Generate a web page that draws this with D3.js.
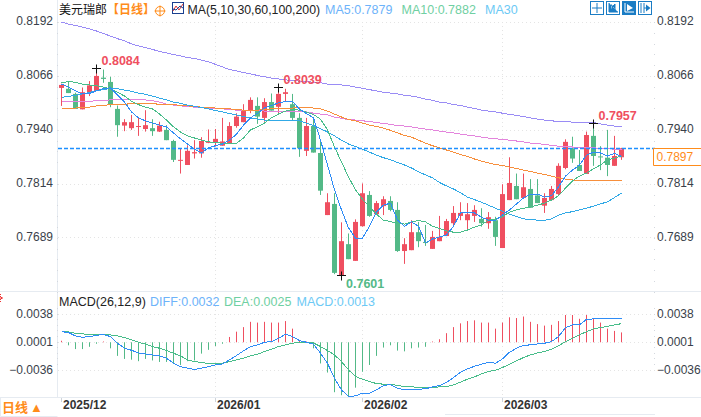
<!DOCTYPE html>
<html lang="zh-CN">
<head>
<meta charset="UTF-8">
<title>美元瑞郎 日线</title>
<style>
  html, body { margin: 0; padding: 0; background: #fff; overflow: hidden; }
  svg { display: block; font-family: "Liberation Sans", Arial, "Noto Sans CJK SC", sans-serif; }
  .axis text { font-size: 12px; fill: #3a3f4a; }
  .axis .domain, .axis line { display: none; }
  .month { font-size: 12px; font-weight: bold; fill: #333; }
  .peak { font-size: 12.5px; font-weight: bold; }
</style>
</head>
<body>
<svg width="701" height="417"></svg>
<script src="https://d3js.org/d3.v7.min.js"></script>
<script>
// daily candles, one entry per trading day
const opens = [0.8038,0.8036,0.8024,0.7988,0.8028,0.8031,0.8062,0.8052,0.7989,0.7950,0.7944,0.7947,0.7942,0.7944,0.7936,0.7940,0.7914,0.7868,0.7858,0.7885,0.7885,0.7910,0.7911,0.7903,0.7909,0.7949,0.7958,0.7986,0.7996,0.7968,0.8005,0.7994,0.8024,0.8000,0.7968,0.7891,0.7949,0.7886,0.7741,0.7767,0.7601,0.7673,0.7634,0.7715,0.7788,0.7743,0.7762,0.7774,0.7753,0.7657,0.7659,0.7701,0.7678,0.7662,0.7680,0.7692,0.7722,0.7739,0.7729,0.7739,0.7732,0.7722,0.7729,0.7664,0.7776,0.7809,0.7781,0.7802,0.7787,0.7763,0.7776,0.7790,0.7851,0.7897,0.7858,0.7837,0.7926,0.7878,0.7875,0.7856,0.7876];
const closes = [0.8045,0.8026,0.7989,0.8028,0.8044,0.8066,0.8059,0.7999,0.7951,0.7958,0.7958,0.7949,0.7951,0.7937,0.7950,0.7916,0.7870,0.7870,0.7891,0.7888,0.7914,0.7912,0.7919,0.7913,0.7949,0.7971,0.7984,0.8010,0.7971,0.8005,0.7985,0.8024,0.8028,0.7968,0.7897,0.7949,0.7887,0.7798,0.7771,0.7606,0.7680,0.7638,0.7725,0.7792,0.7739,0.7769,0.7778,0.7753,0.7657,0.7673,0.7701,0.7680,0.7676,0.7690,0.7690,0.7727,0.7746,0.7746,0.7743,0.7753,0.7722,0.7736,0.7690,0.7790,0.7816,0.7778,0.7806,0.7758,0.7769,0.7781,0.7802,0.7856,0.7912,0.7873,0.7844,0.7928,0.7879,0.7877,0.7858,0.7879,0.7897];
const highs = [0.8048,0.8054,0.8027,0.8039,0.8054,0.8084,0.8081,0.8064,0.7997,0.7965,0.7975,0.7969,0.7986,0.7965,0.7959,0.7951,0.7917,0.7896,0.7904,0.7916,0.7923,0.7941,0.7942,0.7968,0.7958,0.7979,0.8000,0.8016,0.8016,0.8014,0.8025,0.8039,0.8036,0.8024,0.7979,0.7968,0.7965,0.7912,0.7792,0.7792,0.7724,0.7698,0.7731,0.7815,0.7797,0.7774,0.7785,0.7785,0.7771,0.7687,0.7729,0.7725,0.7718,0.7704,0.7739,0.7732,0.7762,0.7771,0.7769,0.7764,0.7757,0.7748,0.7737,0.7813,0.7876,0.7838,0.7838,0.7825,0.7825,0.7792,0.7809,0.7862,0.7918,0.7924,0.7893,0.7936,0.7957,0.7902,0.7940,0.7926,0.7898];
const lows = [0.7996,0.8026,0.7989,0.7988,0.8019,0.8031,0.8050,0.7993,0.7924,0.7937,0.7940,0.7926,0.7936,0.7926,0.7935,0.7916,0.7865,0.7838,0.7858,0.7873,0.7875,0.7909,0.7901,0.7903,0.7909,0.7945,0.7958,0.7979,0.7954,0.7959,0.7985,0.7979,0.8007,0.7961,0.7877,0.7879,0.7887,0.7788,0.7741,0.7603,0.7601,0.7638,0.7634,0.7714,0.7737,0.7743,0.7741,0.7750,0.7655,0.7627,0.7659,0.7666,0.7669,0.7662,0.7680,0.7692,0.7713,0.7729,0.7706,0.7725,0.7714,0.7709,0.7669,0.7664,0.7776,0.7778,0.7781,0.7758,0.7769,0.7746,0.7774,0.7788,0.7848,0.7863,0.7844,0.7837,0.7856,0.7846,0.7832,0.7856,0.7870];

// moving averages
const ma5 = [0.8047,0.8040,0.8031,0.8024,0.8025,0.8031,0.8037,0.8038,0.8021,0.8005,0.7982,0.7968,0.7961,0.7956,0.7951,0.7947,0.7933,0.7919,0.7907,0.7895,0.7886,0.7898,0.7903,0.7907,0.7916,0.7930,0.7951,0.7968,0.7979,0.7991,0.7997,0.8003,0.8006,0.8006,0.7989,0.7978,0.7968,0.7916,0.7858,0.7800,0.7753,0.7711,0.7687,0.7687,0.7715,0.7748,0.7764,0.7769,0.7729,0.7715,0.7725,0.7715,0.7676,0.7685,0.7690,0.7694,0.7715,0.7746,0.7746,0.7746,0.7736,0.7729,0.7729,0.7741,0.7753,0.7767,0.7781,0.7790,0.7790,0.7783,0.7786,0.7807,0.7832,0.7846,0.7858,0.7881,0.7888,0.7886,0.7879,0.7885,0.7878];
const ma10 = [0.8050,0.8053,0.8051,0.8047,0.8045,0.8043,0.8040,0.8036,0.8028,0.8019,0.8007,0.7999,0.7993,0.7989,0.7977,0.7963,0.7947,0.7935,0.7926,0.7921,0.7916,0.7912,0.7910,0.7909,0.7909,0.7909,0.7921,0.7940,0.7947,0.7956,0.7968,0.7977,0.7984,0.7988,0.7986,0.7981,0.7976,0.7965,0.7940,0.7900,0.7865,0.7830,0.7800,0.7778,0.7760,0.7743,0.7729,0.7726,0.7721,0.7720,0.7725,0.7728,0.7725,0.7715,0.7710,0.7704,0.7701,0.7701,0.7706,0.7713,0.7718,0.7729,0.7732,0.7737,0.7748,0.7753,0.7757,0.7760,0.7764,0.7769,0.7776,0.7786,0.7804,0.7821,0.7832,0.7839,0.7849,0.7858,0.7870,0.7874,0.7879];
const ma30 = [0.8016,0.8018,0.8021,0.8024,0.8027,0.8032,0.8034,0.8037,0.8036,0.8033,0.8030,0.8026,0.8023,0.8019,0.8014,0.8010,0.8005,0.8002,0.7998,0.7995,0.7992,0.7989,0.7985,0.7982,0.7978,0.7975,0.7971,0.7968,0.7965,0.7963,0.7962,0.7961,0.7962,0.7962,0.7961,0.7956,0.7950,0.7943,0.7935,0.7926,0.7916,0.7907,0.7901,0.7895,0.7888,0.7881,0.7875,0.7870,0.7864,0.7858,0.7851,0.7842,0.7835,0.7828,0.7817,0.7809,0.7802,0.7793,0.7783,0.7777,0.7771,0.7764,0.7757,0.7750,0.7743,0.7738,0.7732,0.7731,0.7729,0.7729,0.7732,0.7741,0.7746,0.7749,0.7753,0.7757,0.7762,0.7767,0.7772,0.7782,0.7792];
const ma60 = [0.7989,0.7989,0.7991,0.7992,0.7993,0.7996,0.7997,0.7999,0.8000,0.8000,0.8001,0.8001,0.8001,0.8001,0.8000,0.8000,0.7999,0.7997,0.7996,0.7995,0.7993,0.7992,0.7991,0.7990,0.7989,0.7988,0.7986,0.7986,0.7986,0.7988,0.7989,0.7989,0.7990,0.7991,0.7992,0.7992,0.7991,0.7989,0.7984,0.7977,0.7970,0.7964,0.7961,0.7956,0.7951,0.7948,0.7944,0.7939,0.7933,0.7927,0.7923,0.7916,0.7909,0.7903,0.7898,0.7893,0.7888,0.7882,0.7878,0.7872,0.7867,0.7863,0.7859,0.7857,0.7853,0.7850,0.7846,0.7843,0.7839,0.7836,0.7832,0.7828,0.7825,0.7823,0.7821,0.7821,0.7821,0.7821,0.7821,0.7821,0.7821];
const ma100 = [0.8007,0.8007,0.8007,0.8007,0.8007,0.8008,0.8009,0.8010,0.8011,0.8011,0.8011,0.8011,0.8010,0.8008,0.8005,0.8000,0.7998,0.7996,0.7995,0.7993,0.7993,0.7991,0.7990,0.7989,0.7988,0.7986,0.7986,0.7985,0.7985,0.7984,0.7984,0.7984,0.7984,0.7983,0.7982,0.7982,0.7979,0.7977,0.7975,0.7970,0.7967,0.7964,0.7963,0.7961,0.7960,0.7957,0.7955,0.7953,0.7950,0.7949,0.7947,0.7944,0.7942,0.7940,0.7937,0.7935,0.7933,0.7930,0.7928,0.7926,0.7923,0.7921,0.7919,0.7918,0.7916,0.7914,0.7912,0.7909,0.7908,0.7906,0.7904,0.7902,0.7901,0.7900,0.7899,0.7899,0.7898,0.7897,0.7896,0.7895,0.7895];
const ma200 = [0.8192,0.8187,0.8184,0.8180,0.8176,0.8171,0.8165,0.8159,0.8153,0.8148,0.8141,0.8136,0.8132,0.8128,0.8123,0.8120,0.8116,0.8113,0.8109,0.8107,0.8103,0.8099,0.8093,0.8087,0.8081,0.8078,0.8074,0.8071,0.8067,0.8064,0.8061,0.8059,0.8057,0.8055,0.8054,0.8053,0.8051,0.8050,0.8047,0.8046,0.8045,0.8043,0.8040,0.8037,0.8034,0.8031,0.8028,0.8026,0.8024,0.8021,0.8019,0.8016,0.8012,0.8009,0.8005,0.8003,0.7999,0.7997,0.7993,0.7990,0.7986,0.7984,0.7982,0.7979,0.7976,0.7974,0.7971,0.7968,0.7965,0.7963,0.7961,0.7960,0.7960,0.7958,0.7958,0.7957,0.7957,0.7954,0.7951,0.7949,0.7947];

// MACD panel
const diff = [0.00141,0.00128,0.00084,0.00066,0.00075,0.00092,0.00101,0.00075,-0.00013,-0.00079,-0.00106,-0.00141,-0.00154,-0.00167,-0.00180,-0.00211,-0.00277,-0.00321,-0.00343,-0.00361,-0.00343,-0.00321,-0.00299,-0.00286,-0.00233,-0.00176,-0.00114,-0.00057,-0.00035,0.00000,0.00009,0.00053,0.00106,0.00075,0.00022,0.00000,-0.00026,-0.00145,-0.00277,-0.00475,-0.00629,-0.00717,-0.00708,-0.00673,-0.00673,-0.00629,-0.00572,-0.00559,-0.00607,-0.00629,-0.00625,-0.00620,-0.00616,-0.00590,-0.00572,-0.00532,-0.00466,-0.00396,-0.00352,-0.00317,-0.00290,-0.00264,-0.00277,-0.00220,-0.00132,-0.00079,-0.00040,-0.00035,-0.00022,-0.00013,0.00009,0.00075,0.00194,0.00229,0.00229,0.00304,0.00308,0.00317,0.00308,0.00308,0.00317];
const dea = [0.00136,0.00136,0.00119,0.00110,0.00106,0.00101,0.00101,0.00097,0.00084,0.00062,0.00031,0.00000,-0.00026,-0.00057,-0.00079,-0.00110,-0.00145,-0.00180,-0.00233,-0.00255,-0.00268,-0.00282,-0.00282,-0.00277,-0.00255,-0.00233,-0.00211,-0.00180,-0.00158,-0.00123,-0.00092,-0.00057,-0.00035,-0.00013,0.00000,0.00000,-0.00009,-0.00057,-0.00110,-0.00167,-0.00255,-0.00365,-0.00453,-0.00488,-0.00519,-0.00546,-0.00554,-0.00554,-0.00572,-0.00585,-0.00590,-0.00594,-0.00598,-0.00598,-0.00590,-0.00585,-0.00563,-0.00528,-0.00488,-0.00458,-0.00418,-0.00387,-0.00370,-0.00334,-0.00290,-0.00246,-0.00202,-0.00167,-0.00141,-0.00123,-0.00092,-0.00048,0.00009,0.00053,0.00097,0.00141,0.00176,0.00194,0.00211,0.00229,0.00246];
const macdBars = [0.0002,-0.0004,-0.0009,-0.0009,-0.0006,-0.0002,0.0001,-0.0008,-0.0018,-0.0022,-0.0023,-0.0025,-0.0022,-0.0024,-0.0026,-0.0026,-0.0028,-0.0030,-0.0025,-0.0024,-0.0015,-0.0010,-0.0005,-0.0002,0.0007,0.0014,0.0020,0.0027,0.0026,0.0027,0.0026,0.0026,0.0028,0.0018,0.0003,0.0001,-0.0008,-0.0028,-0.0040,-0.0066,-0.0070,-0.0072,-0.0060,-0.0039,-0.0030,-0.0018,-0.0007,-0.0004,-0.0011,-0.0012,-0.0008,-0.0007,-0.0006,0.0001,0.0004,0.0012,0.0020,0.0025,0.0028,0.0029,0.0026,0.0026,0.0018,0.0026,0.0033,0.0032,0.0034,0.0027,0.0024,0.0022,0.0023,0.0028,0.0036,0.0036,0.0031,0.0036,0.0031,0.0026,0.0018,0.0015,0.0013];

// axis labels
const priceTicks = [0.8192, 0.8066, 0.7940, 0.7814, 0.7689];
const macdTicks = [0.0038, 0.0001, -0.0036];
const monthLabels = ["2025/12", "2026/01", "2026/02", "2026/03"];
const monthIndex = [0, 22, 43, 63];
const lastPrice = 0.7897;
const highMarks = [5, 31, 76];
const lowMarks = [40];

const RED = "#ef4f60", GREEN = "#53b987", BLUE = "#1a7cc4", ORANGE = "#ff8c1a";

const svg = d3.select("svg");

const x = d3.scaleLinear().domain([0, 80]).range([61.5, 621.5]);
const y = d3.scaleLinear().domain([0.8192, 0.7601]).range([22, 275]);
const yM = d3.scaleLinear().domain([0.0038, -0.0036]).range([313.5, 369.5]);

// frame
const frame = svg.append("g").attr("stroke", "#e6ebf1").attr("fill", "none");
frame.append("path").attr("d", "M57.5,0V397M0,291.5H701M0,397.5H701M445,414.5H655");
frame.append("path").attr("d", "M0.5,397.5V416.5H57.5");

// grid
const grid = svg.append("g").attr("stroke", "#e4e4e4").attr("stroke-dasharray", "1,3");
[...priceTicks.map(y), ...macdTicks.map(yM)].forEach(py => {
  grid.append("line").attr("x1", 58).attr("x2", 655)
    .attr("y1", Math.round(py) + 0.5).attr("y2", Math.round(py) + 0.5);
});
monthIndex.slice(1).forEach(i => {
  grid.append("line").attr("x1", Math.floor(x(i)) + 0.5).attr("x2", Math.floor(x(i)) + 0.5)
    .attr("y1", 22).attr("y2", 397);
});

// small ticks along both value axes
const minor = svg.append("g").attr("fill", "#d4d8de");
const priceMinor = d3.range(0, 26).map(k => 0.8192 - k * 0.00252);
const macdMinor = d3.range(-1, 10).map(k => 0.0038 - k * 0.00074);
[57, 654].forEach(px => {
  [...priceMinor.map(y), ...macdMinor.map(yM)].forEach(py => {
    minor.append("rect").attr("x", px).attr("y", Math.round(py)).attr("width", 1).attr("height", 1);
  });
});

// candles
const days = d3.range(opens.length);
const candle = svg.append("g").selectAll("g").data(days).join("g")
  .attr("fill", i => closes[i] >= opens[i] ? RED : GREEN);
candle.append("rect")
  .attr("x", i => x(i) - 0.5).attr("width", 1)
  .attr("y", i => y(highs[i]))
  .attr("height", i => y(lows[i]) - y(highs[i]));
candle.append("rect")
  .attr("x", i => x(i) - 2.5).attr("width", 5)
  .attr("y", i => y(Math.max(opens[i], closes[i])))
  .attr("height", i => Math.max(1, Math.abs(y(opens[i]) - y(closes[i]))));

// moving averages
const maLine = d3.line().x((d, i) => x(i)).y(d => y(d));
[[ma200, "#9a8cf5"], [ma100, "#e384dc"], [ma60, "#f78f3c"], [ma30, "#31a9e6"], [ma10, "#48bd8a"], [ma5, "#2f8cf6"]]
  .forEach(([values, color]) => {
    svg.append("path").attr("d", maLine(values)).attr("fill", "none")
      .attr("stroke", color).attr("shape-rendering", "crispEdges");
  });

// high / low markers
const crossAt = (px, py) => svg.append("path")
  .attr("d", `M${px - 4},${py}H${px + 5}M${px + 0.5},${py - 4}V${py + 5}`)
  .attr("transform", "translate(0,0.5)")
  .attr("stroke", "#111").attr("fill", "none");
highMarks.forEach(i => {
  crossAt(Math.floor(x(i)), Math.round(y(highs[i])));
  svg.append("text").attr("class", "peak").attr("fill", RED)
    .attr("x", x(i) + 5).attr("y", y(highs[i]) - 3)
    .text(d3.format(".4f")(highs[i]));
});
lowMarks.forEach(i => {
  crossAt(Math.floor(x(i)), Math.round(y(lows[i])));
  svg.append("text").attr("class", "peak").attr("fill", GREEN)
    .attr("x", x(i) + 4.5).attr("y", y(lows[i]) + 13)
    .text(d3.format(".4f")(lows[i]));
});

// last price line and tag
svg.append("line").attr("x1", 58).attr("x2", 655)
  .attr("y1", 148.5).attr("y2", 148.5)
  .attr("stroke", "#1e90ff").attr("stroke-width", 1.4).attr("stroke-dasharray", "4,2");
svg.append("path").attr("d", "M701,148.5H653.5V165.5H701").attr("fill", "#fff").attr("stroke", ORANGE);
svg.append("text").attr("x", 656.5).attr("y", 161).attr("fill", ORANGE).attr("font-size", 12)
  .text(d3.format(".4f")(lastPrice));

// MACD histogram and lines
svg.append("g").selectAll("rect").data(macdBars).join("rect")
  .attr("x", (d, i) => x(i) - 0.5).attr("width", 1)
  .attr("y", d => Math.min(yM(d), yM(0)))
  .attr("height", d => Math.abs(yM(d) - yM(0)))
  .attr("fill", d => d >= 0 ? RED : GREEN);
const macdLine = d3.line().x((d, i) => x(i)).y(d => yM(d));
svg.append("path").attr("d", macdLine(dea)).attr("fill", "none").attr("stroke", "#48bd8a").attr("shape-rendering", "crispEdges");
svg.append("path").attr("d", macdLine(diff)).attr("fill", "none").attr("stroke", "#2f8cf6").attr("shape-rendering", "crispEdges");

// value axes
const fmt = d3.format(".4f");
svg.append("g").attr("class", "axis").attr("transform", "translate(56,-1)")
  .call(d3.axisLeft(y).tickValues(priceTicks).tickFormat(fmt).tickSize(0).tickPadding(3));
svg.append("g").attr("class", "axis").attr("transform", "translate(56,0)")
  .call(d3.axisLeft(yM).tickValues(macdTicks).tickFormat(fmt).tickSize(0).tickPadding(3));
svg.append("g").attr("class", "axis").attr("transform", "translate(654,-1)")
  .call(d3.axisRight(y).tickValues(priceTicks).tickFormat(fmt).tickSize(0).tickPadding(3));
svg.append("g").attr("class", "axis").attr("transform", "translate(654,0)")
  .call(d3.axisRight(yM).tickValues(macdTicks).tickFormat(fmt).tickSize(0).tickPadding(3));

// month labels
svg.append("g").selectAll("text").data(monthLabels).join("text")
  .attr("class", "month")
  .attr("x", (d, i) => x(monthIndex[i]) + 1.5).attr("y", 409)
  .text(d => d);
monthIndex.forEach(i => {
  svg.append("line").attr("x1", Math.floor(x(i)) + 0.5).attr("x2", Math.floor(x(i)) + 0.5)
    .attr("y1", 398).attr("y2", 402).attr("stroke", "#cfd4da");
});

// header row
const head = (txt, px, fill, size) => svg.append("text")
  .attr("x", px).attr("y", 14).attr("fill", fill).attr("font-size", size).text(txt);
head("美元瑞郎", 59, "#111", 12);
head("【日线】", 107, ORANGE, 12).attr("font-weight", "bold");
head("MA(5,10,30,60,100,200)", 187.5, "#222", 12.3);
head("MA5:0.7879", 325, "#6db3fa", 12.5);
head("MA10:0.7882", 401.5, "#6fd0a2", 12.5);
head("MA30", 485, "#6cc9f5", 12.5);

// target symbol next to the title
svg.append("circle").attr("cx", 160).attr("cy", 11).attr("r", 4.5).attr("fill", "none").attr("stroke", ORANGE);
svg.append("path").attr("d", "M154.5,11H165.5M160,5.5V16.5").attr("stroke", ORANGE).attr("fill", "none");

// MA icon
const maIcon = svg.append("g").attr("fill", "none");
maIcon.append("rect").attr("x", 172.5).attr("y", 2.5).attr("width", 11).attr("height", 11).attr("stroke", "#1a3f8f");
maIcon.append("path").attr("d", "M173,11L176,6L179,10L183,4").attr("stroke", "#d33");
maIcon.append("path").attr("d", "M173,9L176,10L180,6L183,8").attr("stroke", "#1a3f8f");

// toolbar
const tools = [590, 606, 622, 638];
tools.forEach((px, k) => {
  const on = k === 2;
  const g = svg.append("g").attr("transform", `translate(${px},1)`);
  g.append("rect").attr("x", 0.5).attr("y", 0.5).attr("width", 13).attr("height", 13)
    .attr("fill", on ? BLUE : "#fff").attr("stroke", BLUE);
  const ink = on ? "#fff" : BLUE;
  if (k === 0) {
    g.append("path").attr("d", "M7,2V5M7,9V12M2,7H5M9,7H12M6,6H8V8H6Z").attr("stroke", ink).attr("fill", "none");
  } else if (k === 1) {
    g.append("path").attr("d", "M3,2V11H12M5,4H6V8H5M9,3V9L6,6Z").attr("stroke", ink).attr("fill", ink);
  } else if (k === 2) {
    g.append("path").attr("d", "M3,2V11H12").attr("stroke", ink).attr("fill", "none");
    g.append("path").attr("d", "M5,3L11,7L5,10Z").attr("fill", ink);
  } else {
    g.append("path").attr("d", "M3,2V12M6,2V12M6,7H9").attr("stroke", ink).attr("fill", "none");
    g.append("path").attr("d", "M8,3.5L12.5,7L8,10.5Z").attr("fill", ink);
  }
});

// MACD header
const macdHead = (txt, px, fill) => svg.append("text")
  .attr("x", px).attr("y", 306).attr("fill", fill).attr("font-size", 12.5).text(txt);
macdHead("MACD(26,12,9)", 59, "#222");
macdHead("DIFF:0.0032", 150, "#6db3fa");
macdHead("DEA:0.0025", 224, "#6fd0a2");
macdHead("MACD:0.0013", 296.5, "#6cc9f5");

// bottom-left period switch
svg.append("text").attr("x", 2).attr("y", 412).attr("fill", ORANGE)
  .attr("font-size", 13).attr("font-weight", "bold").text("日线");
svg.append("text").attr("x", 30).attr("y", 412).attr("fill", ORANGE).attr("font-size", 13).text("▲");

// clipped marker at the left edge
svg.append("path").attr("d", "M0,296L2,298L0,300M0,298H3M0,294L1,295M0,302L1,301")
  .attr("stroke", "#e33").attr("fill", "none");
</script>
</body>
</html>
